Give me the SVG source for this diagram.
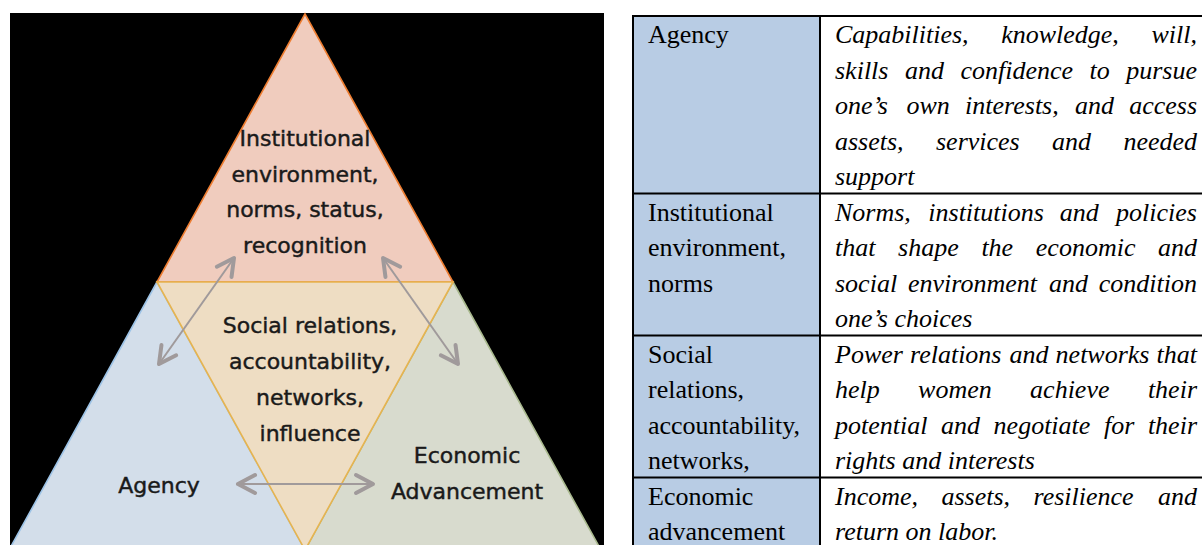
<svg xmlns="http://www.w3.org/2000/svg" width="1202" height="545" viewBox="0 0 1202 545">
<style>
.lbl{font-family:"DejaVu Sans","Liberation Sans",sans-serif;font-size:22px;fill:#1a1a1a;stroke:#1a1a1a;stroke-width:0.45;text-anchor:middle}
.tc{font-family:"Liberation Serif","Times New Roman",serif;font-size:26px;fill:#000}
.it{font-style:italic}
.conn{stroke:#a09a9b;stroke-width:2;fill:none;marker-start:url(#chev);marker-end:url(#chev)}
.grid{stroke:#000;stroke-width:2;fill:none}
.tri{stroke-width:1.6;stroke-linejoin:miter}
</style>
<defs>
<marker id="chev" viewBox="-3 -3 28 26" refX="20" refY="10" markerWidth="28" markerHeight="26" markerUnits="userSpaceOnUse" orient="auto-start-reverse">
<path d="M3,1 L20,10 L3,19" fill="none" stroke="#a09a9b" stroke-width="4" stroke-linecap="round" stroke-linejoin="round"/>
</marker>
</defs>
<rect x="0" y="0" width="1202" height="545" fill="#fff"/>
<rect x="10" y="13" width="594" height="532" fill="#000"/>
<g id="node-agency">
<polygon class="tri" points="157,282 9,550 305,550" fill="#D3DEEA" stroke="#9DC3E6"/>
<text class="lbl" x="159" y="493">Agency</text>
</g>
<g id="node-economic">
<polygon class="tri" points="453,282 305,550 601,550" fill="#D8DBCE" stroke="#A9B98E"/>
<text class="lbl" x="467" y="463">Economic</text>
<text class="lbl" x="467" y="499">Advancement</text>
</g>
<g id="node-institutional">
<polygon class="tri" points="305,14 157,282 453,282" fill="#F0CCBE" stroke="#ED7D31"/>
<text class="lbl" x="305" y="146">Institutional</text>
<text class="lbl" x="305" y="181.5">environment,</text>
<text class="lbl" x="305" y="217">norms, status,</text>
<text class="lbl" x="305" y="252.5">recognition</text>
</g>
<g id="node-social">
<polygon class="tri" points="157,282 453,282 305,550" fill="#EEDDC3" stroke="#E6B450"/>
<text class="lbl" x="310" y="333">Social relations,</text>
<text class="lbl" x="310" y="369">accountability,</text>
<text class="lbl" x="310" y="405">networks,</text>
<text class="lbl" x="310" y="441">influence</text>
</g>
<g id="connectors">
<line class="conn" x1="159" y1="364" x2="234" y2="258"/>
<line class="conn" x1="458" y1="364" x2="383" y2="258"/>
<line class="conn" x1="238" y1="484" x2="373" y2="484"/>
</g>
<g id="table">
<rect x="633" y="16" width="187" height="540" fill="#B8CCE4"/>
<path class="grid" d="M632,16H1202M632,193.5H1202M632,335.5H1202M632,477.5H1202M633,15V545M820,15V545"/>
<g id="row-agency">
<text class="tc" x="648" y="43">Agency</text>
<text class="tc it" y="43"><tspan x="835">Capabilities,</tspan><tspan x="1001.2">knowledge,</tspan><tspan x="1151.5">will,</tspan></text>
<text class="tc it" y="78.5"><tspan x="835">skills</tspan><tspan x="904.9">and</tspan><tspan x="960.4">confidence</tspan><tspan x="1089.5">to</tspan><tspan x="1126.2">pursue</tspan></text>
<text class="tc it" y="114"><tspan x="835">one’s</tspan><tspan x="906.5">own</tspan><tspan x="965.1">interests,</tspan><tspan x="1074.9">and</tspan><tspan x="1129.2">access</tspan></text>
<text class="tc it" y="149.5"><tspan x="835">assets,</tspan><tspan x="936">services</tspan><tspan x="1052">and</tspan><tspan x="1123.4">needed</tspan></text>
<text class="tc it" x="835" y="185">support</text>
</g>
<g id="row-institutional">
<text class="tc" x="648" y="220.5">Institutional</text>
<text class="tc" x="648" y="256">environment,</text>
<text class="tc" x="648" y="291.5">norms</text>
<text class="tc it" y="220.5"><tspan x="835">Norms,</tspan><tspan x="928.3">institutions</tspan><tspan x="1059.7">and</tspan><tspan x="1116.1">policies</tspan></text>
<text class="tc it" y="256"><tspan x="835">that</tspan><tspan x="898.1">shape</tspan><tspan x="981.4">the</tspan><tspan x="1035.8">economic</tspan><tspan x="1158">and</tspan></text>
<text class="tc it" y="291.5"><tspan x="835">social</tspan><tspan x="908">environment</tspan><tspan x="1048.9">and</tspan><tspan x="1098.8">condition</tspan></text>
<text class="tc it" x="835" y="327">one’s choices</text>
</g>
<g id="row-social">
<text class="tc" x="648" y="362.5">Social</text>
<text class="tc" x="648" y="398">relations,</text>
<text class="tc" x="648" y="433.5">accountability,</text>
<text class="tc" x="648" y="469">networks,</text>
<text class="tc it" y="362.5"><tspan x="835">Power</tspan><tspan x="910">relations</tspan><tspan x="1009.5">and</tspan><tspan x="1055.6">networks</tspan><tspan x="1156.6">that</tspan></text>
<text class="tc it" y="398"><tspan x="835">help</tspan><tspan x="918.1">women</tspan><tspan x="1030.1">achieve</tspan><tspan x="1147.9">their</tspan></text>
<text class="tc it" y="433.5"><tspan x="835">potential</tspan><tspan x="941">and</tspan><tspan x="993.6">negotiate</tspan><tspan x="1104">for</tspan><tspan x="1147.9">their</tspan></text>
<text class="tc it" x="835" y="469">rights and interests</text>
</g>
<g id="row-economic">
<text class="tc" x="648" y="504.5">Economic</text>
<text class="tc" x="648" y="540">advancement</text>
<text class="tc it" y="504.5"><tspan x="835">Income,</tspan><tspan x="941.5">assets,</tspan><tspan x="1033.5">resilience</tspan><tspan x="1158">and</tspan></text>
<text class="tc it" x="835" y="540">return on labor.</text>
</g>
</g>
</svg>
